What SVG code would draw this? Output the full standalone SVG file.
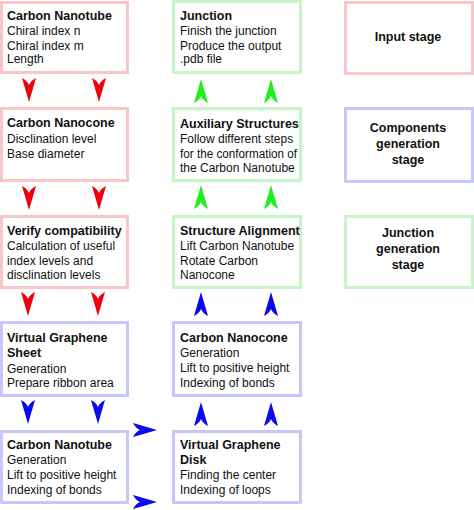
<svg xmlns="http://www.w3.org/2000/svg" xmlns:xlink="http://www.w3.org/1999/xlink" width="474" height="510" viewBox="0 0 474 510">
<defs>
<path id="ah" d="M0,24 L-7,0 Q-1.5,3 0,7 Q1.5,3 7,0 Z"/>
<style>
.box{fill:#fff;stroke-width:3}
.r{stroke:#f8c6c8}
.g{stroke:#c6f6c6}
.b{stroke:#c8c8f8}
text{font-family:"Liberation Sans",Arial,sans-serif;font-size:12px;fill:#111}
.t{font-weight:bold;font-size:12.5px}
.c{text-anchor:middle;font-weight:bold;font-size:12.5px}
.ar{fill:#f0000c}
.ag{fill:#1ef01e}
.ab{fill:#0a0af0}
</style>
</defs>
<rect width="474" height="510" fill="#fff"/>
<g id="n1">
<rect class="box r" x="1.5" y="2.5" width="126" height="70"/>
<text x="7" y="20" class="t">Carbon Nanotube</text>
<text x="7" y="35">Chiral index n</text>
<text x="7" y="50">Chiral index m</text>
<text x="7" y="63">Length</text>
</g>
<g id="n2">
<rect class="box r" x="1.5" y="108.5" width="126" height="72"/>
<text x="7" y="127" class="t">Carbon Nanocone</text>
<text x="7" y="143">Disclination level</text>
<text x="7" y="158">Base diameter</text>
</g>
<g id="n3">
<rect class="box r" x="1.5" y="216.5" width="126" height="71"/>
<text x="7" y="235" class="t">Verify compatibility</text>
<text x="7" y="250">Calculation of useful</text>
<text x="7" y="265">index levels and</text>
<text x="7" y="279">disclination levels</text>
</g>
<g id="n4">
<rect class="box b" x="1.5" y="322.5" width="126" height="73"/>
<text x="7" y="342" class="t">Virtual Graphene</text>
<text x="7" y="357" class="t">Sheet</text>
<text x="7" y="373">Generation</text>
<text x="7" y="387">Prepare ribbon area</text>
</g>
<g id="n5">
<rect class="box b" x="1.5" y="431.5" width="126" height="71"/>
<text x="7" y="449" class="t">Carbon Nanotube</text>
<text x="7" y="464">Generation</text>
<text x="7" y="479">Lift to positive height</text>
<text x="7" y="494">Indexing of bonds</text>
</g>
<g id="n6">
<rect class="box g" x="173.5" y="1.5" width="127" height="71"/>
<text x="180" y="20" class="t">Junction</text>
<text x="180" y="35">Finish the junction</text>
<text x="180" y="50">Produce the output</text>
<text x="180" y="63">.pdb file</text>
</g>
<g id="n7">
<rect class="box g" x="173.5" y="108.5" width="127" height="72"/>
<text x="180" y="128" class="t">Auxiliary Structures</text>
<text x="180" y="143">Follow different steps</text>
<text x="180" y="158" textLength="117" lengthAdjust="spacingAndGlyphs">for the conformation of</text>
<text x="180" y="172">the Carbon Nanotube</text>
</g>
<g id="n8">
<rect class="box g" x="173.5" y="216.5" width="127" height="71"/>
<text x="180" y="235" class="t">Structure Alignment</text>
<text x="180" y="250">Lift Carbon Nanotube</text>
<text x="180" y="265">Rotate Carbon</text>
<text x="180" y="279">Nanocone</text>
</g>
<g id="n9">
<rect class="box b" x="173.5" y="322.5" width="127" height="73"/>
<text x="180" y="342" class="t">Carbon Nanocone</text>
<text x="180" y="357">Generation</text>
<text x="180" y="372">Lift to positive height</text>
<text x="180" y="387">Indexing of bonds</text>
</g>
<g id="n10">
<rect class="box b" x="173.5" y="431.5" width="127" height="71"/>
<text x="180" y="449" class="t">Virtual Graphene</text>
<text x="180" y="464" class="t">Disk</text>
<text x="180" y="479">Finding the center</text>
<text x="180" y="494">Indexing of loops</text>
</g>
<g id="s1">
<rect class="box r" x="345.5" y="2.5" width="127" height="71"/>
<text x="408" y="41" class="c">Input stage</text>
</g>
<g id="s2">
<rect class="box b" x="345.5" y="108.5" width="127" height="73"/>
<text x="408" y="132" class="c">Components</text>
<text x="408" y="148" class="c">generation</text>
<text x="408" y="164" class="c">stage</text>
</g>
<g id="s3">
<rect class="box g" x="345.5" y="216.5" width="127" height="71"/>
<text x="408" y="237" class="c">Junction</text>
<text x="408" y="253" class="c">generation</text>
<text x="408" y="269" class="c">stage</text>
</g>
<g id="connectors">
<use xlink:href="#ah" class="ar" transform="translate(29,78)"/>
<use xlink:href="#ah" class="ar" transform="translate(99,78)"/>
<use xlink:href="#ah" class="ar" transform="translate(29,186)"/>
<use xlink:href="#ah" class="ar" transform="translate(99,186)"/>
<use xlink:href="#ah" class="ar" transform="translate(28,292)"/>
<use xlink:href="#ah" class="ar" transform="translate(98,292)"/>
<use xlink:href="#ah" class="ab" transform="translate(28,400)"/>
<use xlink:href="#ah" class="ab" transform="translate(98,400)"/>
<use xlink:href="#ah" class="ag" transform="translate(201,103) rotate(180)"/>
<use xlink:href="#ah" class="ag" transform="translate(271,103) rotate(180)"/>
<use xlink:href="#ah" class="ag" transform="translate(201,209) rotate(180)"/>
<use xlink:href="#ah" class="ag" transform="translate(271,209) rotate(180)"/>
<use xlink:href="#ah" class="ab" transform="translate(201,316) rotate(180)"/>
<use xlink:href="#ah" class="ab" transform="translate(271,316) rotate(180)"/>
<use xlink:href="#ah" class="ab" transform="translate(201,426) rotate(180)"/>
<use xlink:href="#ah" class="ab" transform="translate(271,426) rotate(180)"/>
<use xlink:href="#ah" class="ab" transform="translate(133,430) rotate(-90)"/>
<use xlink:href="#ah" class="ab" transform="translate(133,502) rotate(-90)"/>
</g>
</svg>
